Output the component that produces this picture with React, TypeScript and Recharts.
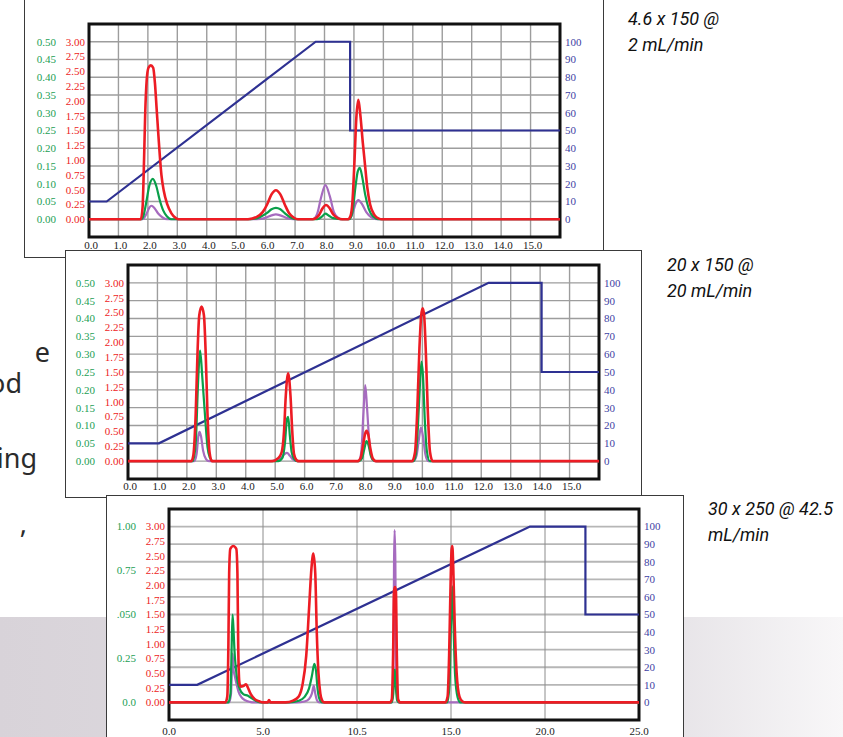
import { LineChart, Line, XAxis, YAxis, CartesianGrid, ReferenceArea } from "recharts";

type Pair = [number, number];

// chart 1: 4.6 x 150 @ 2 mL/min
const c1Red: Pair[] = [[0, 0], [1.76, 0], [1.82, 0.2], [1.87, 1.0], [1.91, 1.8], [1.96, 2.35], [2.02, 2.56], [2.1, 2.6], [2.18, 2.56], [2.24, 2.3], [2.3, 1.85], [2.36, 1.4], [2.46, 0.75], [2.54, 0.48], [2.66, 0.25], [2.8, 0.1], [2.95, 0.02], [3.05, 0], [5.4, 0], [5.7, 0.04], [5.9, 0.12], [6.05, 0.25], [6.2, 0.42], [6.35, 0.49], [6.5, 0.42], [6.65, 0.25], [6.8, 0.1], [6.95, 0.03], [7.1, 0], [7.6, 0], [7.8, 0.06], [7.93, 0.18], [8.05, 0.24], [8.17, 0.19], [8.3, 0.08], [8.45, 0.02], [8.6, 0], [8.8, 0], [8.88, 0.05], [8.95, 0.3], [9.02, 1.0], [9.08, 1.7], [9.15, 2.02], [9.22, 1.75], [9.3, 1.3], [9.37, 0.95], [9.45, 0.55], [9.55, 0.25], [9.7, 0.07], [9.85, 0.01], [9.95, 0], [16, 0]];
const c1Green: Pair[] = [[0, 0], [1.78, 0], [1.85, 0.01], [1.95, 0.05], [2.05, 0.095], [2.17, 0.114], [2.28, 0.095], [2.4, 0.055], [2.52, 0.025], [2.65, 0.008], [2.8, 0], [5.5, 0], [5.8, 0.006], [6.05, 0.018], [6.2, 0.028], [6.35, 0.032], [6.5, 0.028], [6.65, 0.017], [6.85, 0.005], [7.05, 0], [7.75, 0], [7.92, 0.008], [8.03, 0.016], [8.15, 0.01], [8.3, 0.003], [8.6, 0], [8.85, 0], [8.95, 0.02], [9.05, 0.09], [9.13, 0.135], [9.2, 0.145], [9.28, 0.12], [9.38, 0.07], [9.5, 0.03], [9.65, 0.008], [9.85, 0], [16, 0]];
const c1Purple: Pair[] = [[0, 0], [1.82, 0], [1.95, 0.015], [2.05, 0.033], [2.12, 0.038], [2.22, 0.032], [2.35, 0.016], [2.5, 0.005], [2.65, 0], [5.7, 0], [6.0, 0.004], [6.2, 0.011], [6.35, 0.014], [6.5, 0.011], [6.7, 0.004], [6.95, 0], [7.6, 0], [7.75, 0.015], [7.88, 0.06], [8.03, 0.096], [8.18, 0.065], [8.32, 0.02], [8.48, 0.003], [8.6, 0], [8.8, 0], [8.95, 0.015], [9.05, 0.042], [9.15, 0.054], [9.28, 0.042], [9.42, 0.02], [9.6, 0.005], [9.8, 0], [16, 0]];
const c1Gradient: Pair[] = [[0, 10], [0.6, 10], [7.7, 100], [8.87, 100], [8.87, 50], [16, 50]];

// chart 2: 20 x 150 @ 20 mL/min
const c2Red: Pair[] = [[0, 0], [2.15, 0], [2.22, 0.1], [2.3, 0.8], [2.36, 1.8], [2.42, 2.45], [2.5, 2.6], [2.58, 2.45], [2.64, 1.8], [2.7, 0.8], [2.77, 0.15], [2.85, 0], [4.9, 0], [5.1, 0.05], [5.22, 0.15], [5.3, 0.5], [5.36, 1.1], [5.44, 1.48], [5.52, 1.1], [5.58, 0.5], [5.64, 0.12], [5.72, 0.02], [5.8, 0], [7.8, 0], [7.9, 0.05], [7.98, 0.25], [8.05, 0.45], [8.1, 0.51], [8.16, 0.45], [8.23, 0.22], [8.32, 0.04], [8.42, 0], [9.65, 0], [9.75, 0.15], [9.83, 0.9], [9.9, 1.9], [9.96, 2.45], [10.01, 2.57], [10.06, 2.45], [10.12, 1.8], [10.18, 0.9], [10.26, 0.15], [10.35, 0], [16, 0]];
const c2Green: Pair[] = [[0, 0], [2.2, 0], [2.3, 0.05], [2.38, 0.22], [2.45, 0.31], [2.52, 0.24], [2.58, 0.17], [2.64, 0.1], [2.7, 0.04], [2.78, 0.01], [2.88, 0], [5.1, 0], [5.25, 0.01], [5.33, 0.05], [5.4, 0.118], [5.44, 0.124], [5.5, 0.07], [5.56, 0.025], [5.65, 0.005], [5.75, 0], [7.85, 0], [7.95, 0.008], [8.03, 0.035], [8.1, 0.056], [8.17, 0.045], [8.25, 0.015], [8.35, 0.002], [8.45, 0], [9.7, 0], [9.78, 0.02], [9.85, 0.1], [9.92, 0.22], [9.97, 0.279], [10.02, 0.24], [10.08, 0.12], [10.15, 0.03], [10.25, 0], [16, 0]];
const c2Purple: Pair[] = [[0, 0], [2.25, 0], [2.33, 0.02], [2.39, 0.07], [2.43, 0.082], [2.48, 0.07], [2.55, 0.03], [2.65, 0.006], [2.75, 0], [4.85, 0], [5.05, 0.004], [5.2, 0.01], [5.32, 0.02], [5.4, 0.023], [5.5, 0.015], [5.6, 0.005], [5.75, 0], [7.85, 0], [7.93, 0.03], [8.0, 0.14], [8.06, 0.213], [8.12, 0.15], [8.2, 0.05], [8.3, 0.005], [8.4, 0], [9.7, 0], [9.8, 0.015], [9.88, 0.06], [9.95, 0.094], [10.02, 0.07], [10.1, 0.02], [10.2, 0], [16, 0]];
const c2Gradient: Pair[] = [[0, 10], [1.05, 10], [12.25, 100], [14.05, 100], [14.05, 50], [16, 50]];

// chart 3: 30 x 250 @ 42.5 mL/min
const c3Red: Pair[] = [[0, 0], [3.0, 0], [3.1, 0.1], [3.16, 1.0], [3.2, 2.2], [3.26, 2.62], [3.42, 2.67], [3.58, 2.62], [3.64, 2.2], [3.68, 1.0], [3.74, 0.35], [3.8, 0.27], [3.95, 0.28], [4.1, 0.31], [4.2, 0.25], [4.35, 0.14], [4.55, 0.06], [4.8, 0.02], [5.0, 0], [5.25, 0], [5.32, 0.04], [5.4, 0], [6.2, 0], [6.6, 0.03], [6.9, 0.1], [7.1, 0.3], [7.3, 0.8], [7.45, 1.6], [7.58, 2.3], [7.68, 2.54], [7.78, 2.2], [7.86, 1.2], [7.95, 0.5], [8.05, 0.15], [8.15, 0.03], [8.25, 0], [11.75, 0], [11.85, 0.05], [11.92, 0.8], [11.97, 1.9], [12.02, 1.97], [12.07, 1.9], [12.12, 0.8], [12.19, 0.05], [12.3, 0], [14.7, 0], [14.82, 0.1], [14.9, 0.8], [14.97, 1.9], [15.03, 2.6], [15.07, 2.67], [15.12, 2.3], [15.2, 1.3], [15.3, 0.5], [15.45, 0.1], [15.6, 0.02], [15.75, 0], [25, 0]];
const c3Green: Pair[] = [[0, 0], [3.15, 0], [3.27, 0.05], [3.33, 0.3], [3.38, 0.5], [3.43, 0.42], [3.48, 0.3], [3.55, 0.2], [3.63, 0.13], [3.75, 0.08], [3.95, 0.047], [4.2, 0.038], [4.45, 0.02], [4.7, 0.005], [4.85, 0], [6.4, 0], [6.9, 0.01], [7.2, 0.03], [7.45, 0.08], [7.6, 0.15], [7.73, 0.22], [7.82, 0.18], [7.9, 0.08], [8.0, 0.02], [8.15, 0], [11.85, 0], [11.93, 0.05], [11.98, 0.18], [12.02, 0.187], [12.06, 0.1], [12.14, 0.01], [12.25, 0], [14.8, 0], [14.92, 0.1], [15.0, 0.45], [15.07, 0.66], [15.13, 0.45], [15.22, 0.15], [15.35, 0.03], [15.5, 0], [25, 0]];
const c3Purple: Pair[] = [[0, 0], [3.2, 0], [3.3, 0.05], [3.35, 0.2], [3.38, 0.277], [3.43, 0.19], [3.5, 0.15], [3.58, 0.11], [3.7, 0.06], [3.85, 0.03], [4.05, 0.012], [4.3, 0.003], [4.5, 0], [6.8, 0], [7.2, 0.005], [7.45, 0.02], [7.6, 0.05], [7.7, 0.094], [7.78, 0.05], [7.88, 0.01], [8.0, 0], [11.85, 0], [11.93, 0.1], [11.97, 0.8], [12.0, 0.98], [12.04, 0.8], [12.09, 0.1], [12.2, 0], [25, 0]];
const c3Gradient: Pair[] = [[0, 10], [1.5, 10], [19.2, 100], [22.15, 100], [22.15, 50], [25, 50]];

const xTicks16 = [0, 1, 2, 3, 4, 5, 6, 7, 8, 9, 10, 11, 12, 13, 14, 15];
const xLabels16 = ["0.0", "1.0", "2.0", "3.0", "4.0", "5.0", "6.0", "7.0", "8.0", "9.0", "10.0", "11.0", "12.0", "13.0", "14.0", "15.0"];
const xTicks25 = [0, 5, 10, 15, 20, 25];
const xLabels25 = ["0.0", "5.0", "10.5", "15.0", "20.0", "25.0"];
const redTicks = [0, 0.25, 0.5, 0.75, 1, 1.25, 1.5, 1.75, 2, 2.25, 2.5, 2.75, 3];
const redLabels = ["0.00", "0.25", "0.50", "0.75", "1.00", "1.25", "1.50", "1.75", "2.00", "2.25", "2.50", "2.75", "3.00"];
const greenTicksSmall = [0, 0.05, 0.1, 0.15, 0.2, 0.25, 0.3, 0.35, 0.4, 0.45, 0.5];
const greenLabelsSmall = ["0.00", "0.05", "0.10", "0.15", "0.20", "0.25", "0.30", "0.35", "0.40", "0.45", "0.50"];
const greenTicksLarge = [0, 0.25, 0.5, 0.75, 1];
const greenLabelsLarge = ["0.0", "0.25", ".050", "0.75", "1.00"];
const blueTicks = [0, 10, 20, 30, 40, 50, 60, 70, 80, 90, 100];

const RED = "#ed1c24";
const GREEN = "#0a9f4a";
const PURPLE = "#a66bbf";
const NAVY = "#2e3192";
const SERIF = "'Liberation Serif', 'Times New Roman', serif";

// axis ids: recharts stacks same-side axes by id, so the red scale ("a") sits next to the plot
const RED_AX = "a";
const GREEN_AX = "b";
const BLUE_AX = "c";

const pts = (a: Pair[]) => a.map(([t, v]) => ({ t, v }));

type ChromProps = {
  left: number; top: number; width: number; height: number;
  margin: { top: number; right: number; bottom: number; left: number };
  red: Pair[]; green: Pair[]; purple: Pair[]; gradient: Pair[];
  xMax: number; xTicks: number[]; xLabels: string[]; xDx: number; xMargin: number;
  greenMax: number; greenTicks: number[]; greenLabels: string[];
  sparse?: boolean;
};

function Chromatogram(p: ChromProps) {
  const gMin = -p.greenMax / 10;
  const gTop = p.greenMax * 1.1;
  return (
    <div style={{ position: "absolute", left: p.left, top: p.top }}>
      <LineChart width={p.width} height={p.height} margin={p.margin}>
        {p.sparse ? (
          <>
            <CartesianGrid yAxisId={BLUE_AX} vertical={false} stroke="#b6b6b6" strokeWidth={1.8} />
            <CartesianGrid yAxisId={BLUE_AX} horizontal={false} stroke="#8c8c8c" strokeWidth={1} />
          </>
        ) : (
          <CartesianGrid yAxisId={BLUE_AX} stroke="#9d9d9d" strokeWidth={1.4} />
        )}
        <XAxis type="number" dataKey="t" domain={[0, p.xMax]} ticks={p.xTicks} interval={0}
          allowDataOverflow axisLine={false} tickLine={false} tickSize={0} tickMargin={p.xMargin} height={18}
          tickFormatter={(_v: number, i: number) => p.xLabels[i]}
          tick={{ fill: "#222", fontSize: 11, fontFamily: SERIF, dx: p.xDx }} />
        <YAxis yAxisId={RED_AX} type="number" domain={[-0.3, 3.3]} ticks={redTicks} interval={0}
          allowDataOverflow axisLine={false} tickLine={false} tickSize={0} tickMargin={4} width={30}
          tickFormatter={(_v: number, i: number) => redLabels[i]}
          tick={{ fill: RED, fontSize: 11, fontFamily: SERIF }} />
        <YAxis yAxisId={GREEN_AX} type="number" domain={[gMin, gTop]} ticks={p.greenTicks} interval={0}
          allowDataOverflow axisLine={false} tickLine={false} tickSize={0} tickMargin={3} width={30}
          tickFormatter={(_v: number, i: number) => p.greenLabels[i]}
          tick={{ fill: "#22a055", fontSize: 11, fontFamily: SERIF }} />
        <YAxis yAxisId={BLUE_AX} orientation="right" type="number" domain={[-10, 110]} ticks={blueTicks} interval={0}
          allowDataOverflow axisLine={false} tickLine={false} tickSize={0} tickMargin={5} width={30}
          tick={{ fill: "#3d41a3", fontSize: 11, fontFamily: SERIF }} />
        <Line yAxisId={BLUE_AX} data={pts(p.gradient)} dataKey="v" type="linear" stroke={NAVY} strokeWidth={2.2} dot={false} isAnimationActive={false} />
        <Line yAxisId={GREEN_AX} data={pts(p.purple)} dataKey="v" type="monotone" stroke={PURPLE} strokeWidth={2.2} dot={false} isAnimationActive={false} />
        <Line yAxisId={GREEN_AX} data={pts(p.green)} dataKey="v" type="monotone" stroke={GREEN} strokeWidth={2.2} dot={false} isAnimationActive={false} />
        <Line yAxisId={RED_AX} data={pts(p.red)} dataKey="v" type="monotone" stroke={RED} strokeWidth={2.6} dot={false} isAnimationActive={false} />
        <ReferenceArea yAxisId={BLUE_AX} x1={0} x2={p.xMax} y1={-10} y2={110} fill="none" stroke="#111" strokeWidth={3} ifOverflow="visible" />
      </LineChart>
    </div>
  );
}

const panel = (left: number, top: number, width: number, height: number) => ({
  position: "absolute" as const, left, top, width, height, background: "#fff",
  border: "1.5px solid #3a3a3a", boxSizing: "border-box" as const,
});

const noteStyle = (left: number, top: number) => ({
  position: "absolute" as const, left, top, fontFamily: "Roboto, 'Noto Sans', sans-serif",
  fontStyle: "italic", fontSize: 18, lineHeight: "26px", color: "#111", whiteSpace: "nowrap" as const,
});

const sideStyle = (right: number, top: number) => ({
  position: "absolute" as const, left: right - 200, width: 200, top, textAlign: "right" as const,
  fontFamily: "'Noto Sans', sans-serif", fontSize: 27, lineHeight: "30px", color: "#2b2b2b",
});

export default function App() {
  return (
    <div style={{ position: "absolute", left: 0, top: 0, width: 843, height: 737, overflow: "hidden", background: "#fff" }}>
      <div style={{ position: "absolute", left: 0, top: 617, width: 843, height: 120, background: "linear-gradient(90deg, #d8d3d9 0%, #dedadf 35%, #e7e4e8 80%, #f8f7f8 100%)" }} />

      <div style={sideStyle(50, 337)}>e</div>
      <div style={sideStyle(22, 368)}>od</div>
      <div style={sideStyle(37, 443)}>ving</div>
      <div style={sideStyle(27, 508)}>,</div>

      <div style={panel(24, -10, 580, 268)} />
      <Chromatogram left={24} top={0} width={579} height={260} margin={{ top: 24, right: 13, bottom: 5, left: 5 }}
        red={c1Red} green={c1Green} purple={c1Purple} gradient={c1Gradient}
        xMax={16} xTicks={xTicks16} xLabels={xLabels16} xDx={2} xMargin={4}
        greenMax={0.5} greenTicks={greenTicksSmall} greenLabels={greenLabelsSmall} />

      <div style={panel(65, 250, 577, 248)} />
      <Chromatogram left={65} top={251} width={576} height={246} margin={{ top: 14, right: 12, bottom: 0, left: 3 }}
        red={c2Red} green={c2Green} purple={c2Purple} gradient={c2Gradient}
        xMax={16} xTicks={xTicks16} xLabels={xLabels16} xDx={2} xMargin={3}
        greenMax={0.5} greenTicks={greenTicksSmall} greenLabels={greenLabelsSmall} />

      <div style={panel(106, 495, 578, 260)} />
      <Chromatogram left={107} top={496} width={576} height={241} margin={{ top: 13, right: 14, bottom: -1, left: 2 }}
        red={c3Red} green={c3Green} purple={c3Purple} gradient={c3Gradient}
        xMax={25} xTicks={xTicks25} xLabels={xLabels25} xDx={0} xMargin={7}
        greenMax={1} greenTicks={greenTicksLarge} greenLabels={greenLabelsLarge} sparse />

      <div style={noteStyle(628, 6)}>4.6 x 150 @<br />2 mL/min</div>
      <div style={noteStyle(667, 252)}>20 x 150 @<br />20 mL/min</div>
      <div style={noteStyle(708, 496)}>30 x 250 @ 42.5<br />mL/min</div>
    </div>
  );
}
